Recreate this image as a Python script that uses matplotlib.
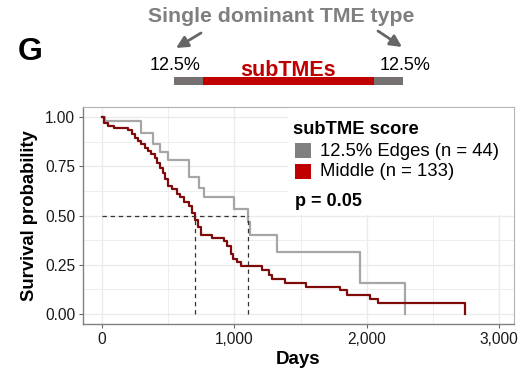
import matplotlib
matplotlib.use("Agg")
import matplotlib.pyplot as plt
from matplotlib.patches import Rectangle, FancyArrowPatch
import numpy as np

plt.rcParams['font.family'] = ['Liberation Sans', 'DejaVu Sans']

# ---- data ----
edges_time = [0, 25, 294, 382, 440, 496, 660, 731, 773, 1000, 1103, 1118, 1322, 1946, 2288]
edges_surv = [1.0, 0.977, 0.918, 0.862, 0.820, 0.783, 0.693, 0.640, 0.592, 0.535, 0.466, 0.400, 0.317, 0.158, 0.0]

middle_time = [0, 17, 43, 94, 195, 225, 250, 271, 296, 321, 347, 372, 397, 415, 440, 461, 473,
               500, 529, 567, 592, 617, 655, 681, 706, 727, 745, 833, 921, 947, 972, 990, 1023,
               1048, 1212, 1258, 1283, 1384, 1541, 1795, 1853, 2023, 2086, 2744]
middle_surv = [1.0, 0.970, 0.956, 0.944, 0.933, 0.911, 0.894, 0.877, 0.860, 0.843, 0.827, 0.810,
               0.793, 0.768, 0.742, 0.717, 0.683, 0.652, 0.634, 0.609, 0.593, 0.567, 0.550, 0.515,
               0.475, 0.440, 0.402, 0.385, 0.369, 0.343, 0.306, 0.281, 0.264, 0.242, 0.222, 0.197,
               0.180, 0.160, 0.140, 0.120, 0.099, 0.076, 0.054, 0.0]

median_middle = 706
median_edges = 1104

legend_title = "subTME score"
legend_labels = ["12.5% Edges (n = 44)", "Middle (n = 133)"]
p_text = "p = 0.05"
x_ticks = [0, 1000, 2000, 3000]
x_ticklabels = ["0", "1,000", "2,000", "3,000"]
y_ticks = [0.0, 0.25, 0.5, 0.75, 1.0]
y_ticklabels = ["0.00", "0.25", "0.50", "0.75", "1.00"]

W, H = 518, 373
fig = plt.figure(figsize=(W / 100, H / 100), dpi=100)

# ---- main KM axes ----
L, R, T, B = 83, 514, 107, 324
ax = fig.add_axes([L / W, 1 - B / H, (R - L) / W, (B - T) / H])
ax.set_xlim(-144, 3113)
ax.set_ylim(-0.05, 1.05)

grid_c = "#EBEBEB"
for v in [500, 1500, 2500]:
    ax.axvline(v, color=grid_c, lw=0.6, zorder=0)
for v in [0, 1000, 2000, 3000]:
    ax.axvline(v, color=grid_c, lw=1.0, zorder=0)
for v in [0.125, 0.375, 0.625, 0.875]:
    ax.axhline(v, color=grid_c, lw=0.6, zorder=0)
for v in y_ticks:
    ax.axhline(v, color=grid_c, lw=1.0, zorder=0)

ax.step(edges_time, edges_surv, where='post', color="#A6A6A6", lw=1.6, zorder=3)
ax.step(middle_time, middle_surv, where='post', color="#7F0A0A", lw=1.6, zorder=4)

dash_kw = dict(color="#333333", lw=0.9, ls=(0, (3.5, 3)), zorder=5)
ax.plot([0, median_edges], [0.5, 0.5], **dash_kw)
ax.plot([median_middle, median_middle], [0, 0.5], **dash_kw)
ax.plot([median_edges, median_edges], [0, 0.5], **dash_kw)

ax.set_xticks(x_ticks)
ax.set_xticklabels(x_ticklabels)
ax.set_yticks(y_ticks)
ax.set_yticklabels(y_ticklabels)
ax.tick_params(axis='both', labelsize=11.2, colors="#666666", labelcolor="#1A1A1A",
               length=3, width=0.8, pad=2.5)
for s in ['top', 'right']:
    ax.spines[s].set_color("#B3B3B3")
    ax.spines[s].set_linewidth(0.8)
for s in ['left', 'bottom']:
    ax.spines[s].set_color("#808080")
    ax.spines[s].set_linewidth(1.0)

ax.set_xlabel("Days", fontsize=13.5, fontweight='bold', labelpad=3)
ax.set_ylabel("Survival probability", fontsize=13.3, fontweight='bold', labelpad=5)

# ---- legend-like block (white box in panel) ----
ov = fig.add_axes([0, 0, 1, 1], zorder=10)
ov.set_xlim(0, W)
ov.set_ylim(H, 0)
ov.axis('off')
ov.add_patch(Rectangle((288, 108), 226, 107, facecolor='white', edgecolor='none'))
ov.text(293, 129, legend_title, fontsize=13.2, fontweight='bold', va='center', ha='left')
ov.add_patch(Rectangle((295, 143), 16, 15, facecolor="#808080", edgecolor='none'))
ov.add_patch(Rectangle((295, 164), 16, 15, facecolor="#C00000", edgecolor='none'))
ov.text(320, 151, legend_labels[0], fontsize=13.3, va='center', ha='left')
ov.text(320, 172, legend_labels[1], fontsize=13.3, va='center', ha='left')
ov.text(295, 201, p_text, fontsize=13, fontweight='bold', va='center', ha='left')

# ---- header annotation ----
ov.text(30, 52, "G", fontsize=23, fontweight='bold', va='center', ha='center')
ov.text(281, 17, "Single dominant TME type", fontsize=15.3, fontweight='bold',
        color="#7F7F7F", va='center', ha='center')
ov.add_patch(FancyArrowPatch((201, 33), (176, 48), arrowstyle='-|>,head_length=7,head_width=3.5',
                             color="#666666", lw=2.0, mutation_scale=1, shrinkA=0, shrinkB=0))
ov.add_patch(FancyArrowPatch((378, 31), (402, 47), arrowstyle='-|>,head_length=7,head_width=3.5',
                             color="#666666", lw=2.0, mutation_scale=1, shrinkA=0, shrinkB=0))
ov.text(175, 66, "12.5%", fontsize=13, va='center', ha='center')
ov.text(405, 66, "12.5%", fontsize=13, va='center', ha='center')
ov.text(288, 70, "subTMEs", fontsize=15.5, fontweight='bold', color="#C00000",
        va='center', ha='center')
ov.add_patch(Rectangle((174, 77), 29, 8, facecolor="#767171", edgecolor='none'))
ov.add_patch(Rectangle((203, 77), 171, 8, facecolor="#C00000", edgecolor='none'))
ov.add_patch(Rectangle((374, 77), 29, 8, facecolor="#767171", edgecolor='none'))

fig.savefig("out.png", dpi=100)
